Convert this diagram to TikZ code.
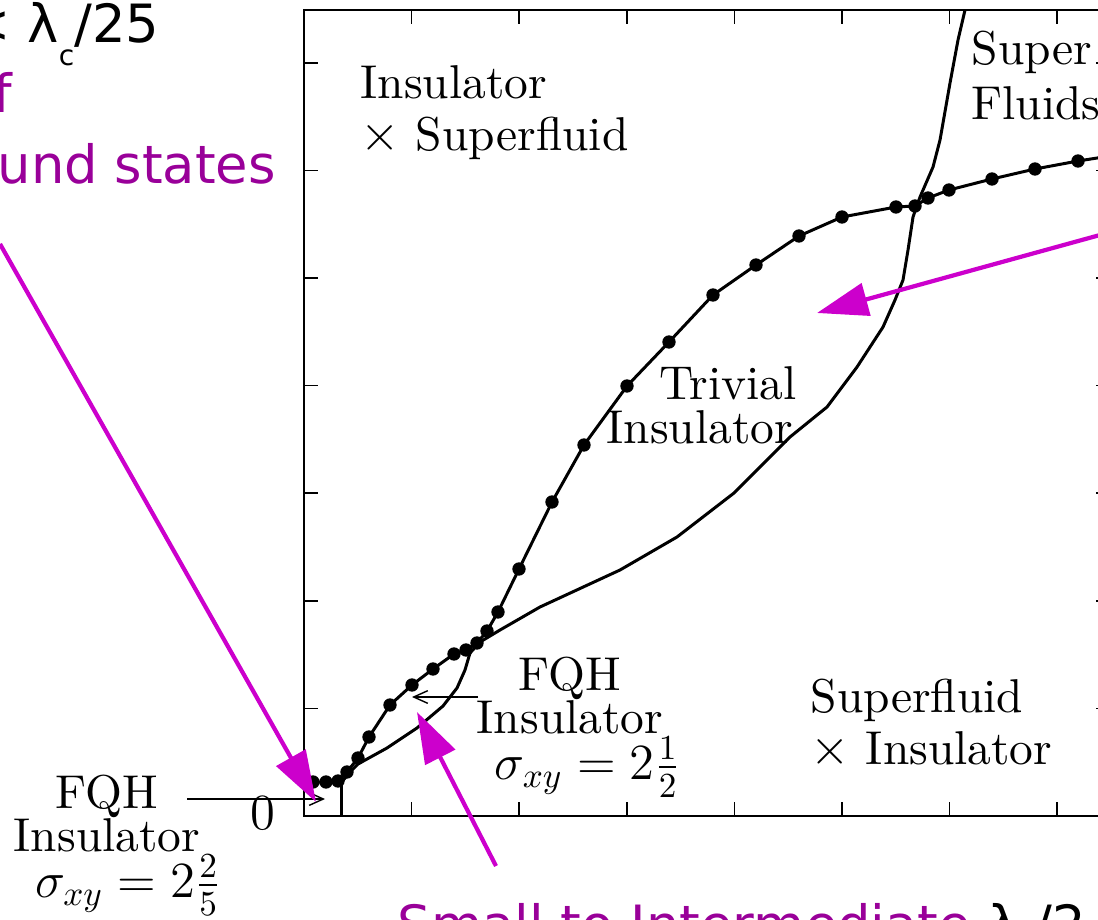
\documentclass[tikz,border=0pt]{standalone}
\usepackage{fontspec}
\usepackage{tikz}
\usetikzlibrary{arrows.meta}
\setmainfont{lmroman10-regular}[Extension=.otf, ItalicFont=lmroman10-italic, BoldFont=lmroman10-bold]
\newfontfamily\slidefont{DejaVu Sans}
\definecolor{slidepurple}{HTML}{990099}
\definecolor{slidemagenta}{HTML}{CC00CC}
\newcommand{\lowsub}[1]{\raisebox{-6.3pt}{\fontsize{8}{8}\selectfont #1}}
\newcommand{\bigmath}[1]{{\fontsize{14.6}{12}\selectfont #1}}

\begin{document}
\begin{tikzpicture}[
    x=0.01cm, y=-0.01cm,
    font=\fontsize{13.5}{12.2}\selectfont,
    lbl/.style={inner sep=0pt, align=left},
    slide/.style={inner sep=0pt, font=\slidefont\fontsize{15}{18}\selectfont},
    frame/.style={line width=0.45pt},
    curve/.style={line width=0.85pt, line join=round},
    pointer/.style={-{Straight Barb[length=4pt,width=3.6pt]}, line width=0.4pt},
    hint/.style={-{Triangle[length=14.5pt,width=9.4pt]}, slidemagenta, line width=1.2pt},
  ]
    \useasboundingbox (0,0) rectangle (1098,919);
    \draw[frame] (304,10) rectangle (1110,816);
    \foreach \k in {1,...,7} {
        \draw[frame] ({304+107.6*\k},816) -- ++(0,-14);
        \draw[frame] ({304+107.6*\k},10) -- ++(0,14);
        \draw[frame] (304,{816-107.6*\k}) -- ++(14,0);
        \draw[frame] (1110,{816-107.6*\k}) -- ++(-14,0);
    }
    \node[inner sep=0pt] (zeroLbl) at (263,813) {\bigmath{$0$}};
    \draw[curve] (341,783) -- (341,816);
    \draw[curve] (341,783) -- (350,772) -- (358,764) -- (387,748) -- (417,728)
        -- (443,706) -- (457,688) -- (465,670) -- (470,653) -- (480,642)
        -- (500,630) -- (540,607) -- (620,570) -- (677,537) -- (734,493)
        -- (790,437) -- (827,407) -- (857,367) -- (883,327) -- (895,300)
        -- (903,280) -- (908,250) -- (913,217) -- (920,197) -- (933,167)
        -- (940,140) -- (950,83) -- (958,40) -- (965,10);
    \draw[curve] (313,782) -- (326,782) -- (338,781) -- (347,772) -- (358,758)
        -- (369,737) -- (390,705) -- (412,685) -- (433,669) -- (454,654)
        -- (466,650) -- (477,643) -- (487,631) -- (498,612) -- (519,569)
        -- (552,502) -- (584,445) -- (627,386) -- (669,342) -- (713,295)
        -- (756,265) -- (799,236) -- (842,217) -- (896,207) -- (915,206)
        -- (928,198) -- (949,190) -- (992,179) -- (1035,169) -- (1078,161)
        -- (1110,156);
    \foreach \p in {(313,782),(326,782),(338,781),(347,772),(358,758),
        (369,737),(390,705),(412,685),(433,669),(454,654),(466,650),
        (477,643),(487,631),(498,612),(519,569),(552,502),(584,445),
        (627,386),(669,342),(713,295),(756,265),(799,236),(842,217),
        (896,207),(915,206),(928,198),(949,190),(992,179),(1035,169),
        (1078,161)}
        \fill \p circle[radius=1.9pt];

    \node[lbl, anchor=north west, font=\fontsize{13.5}{14.8}\selectfont] (insSf) at (360,65) {Insulator\\$\times$ Superfluid};
    \node[lbl, anchor=north west, font=\fontsize{13.5}{14.8}\selectfont] (sfIns) at (810,678) {Superfluid\\$\times$ Insulator};
    \node[lbl, anchor=north west, font=\fontsize{13.5}{12.5}\selectfont] (trivIns) at (606,366) {\hspace*{15pt}Trivial\\Insulator};
    \node[lbl, anchor=north west, font=\fontsize{13.5}{15.6}\selectfont] (superFl) at (971,30) {Super\\Fluids};
    \node[lbl, align=center, anchor=north] (fqhL) at (107,774) {FQH\\Insulator\\\hspace*{12pt}\bigmath{$\sigma_{xy}=2\frac{2}{5}$}};
    \node[lbl, align=center, anchor=north] (fqhM) at (570,656) {FQH\\Insulator\\\hspace*{10pt}\bigmath{$\sigma_{xy}=2\frac{1}{2}$}};
    \coordinate (fqhLfrom) at (187,799);
    \coordinate (fqhLto) at (325,799);
    \coordinate (fqhMfrom) at (478,697);
    \coordinate (fqhMto) at (412,697);
    \draw[pointer] (fqhLfrom) -- (fqhLto);
    \draw[pointer] (fqhMfrom) -- (fqhMto);

    \node[slide, anchor=base east] (ratioTxt) at (160,43) {< λ\lowsub{c}/25};
    \node[slide, anchor=base west, text=slidepurple] (ofTxt) at (-7,113) {f};
    \node[slide, anchor=base west, text=slidepurple] (groundTxt) at (-3,184) {und states};
    \node[slide, anchor=base west, text=slidepurple] (smallTxt) at (397,943) {Small to Intermediate \textcolor{black}{λ\lowsub{c}/2}};
    \coordinate (groundFrom) at (0,244);
    \coordinate (groundTo) at (316,802);
    \coordinate (smallFrom) at (496,866);
    \coordinate (smallTo) at (417,712);
    \coordinate (sfFrom) at (1100,235);
    \coordinate (sfTo) at (817,313);
    \draw[hint] (groundFrom) -- (groundTo);
    \draw[hint] (smallFrom) -- (smallTo);
    \draw[hint] (sfFrom) -- (sfTo);
\end{tikzpicture}
\end{document}
